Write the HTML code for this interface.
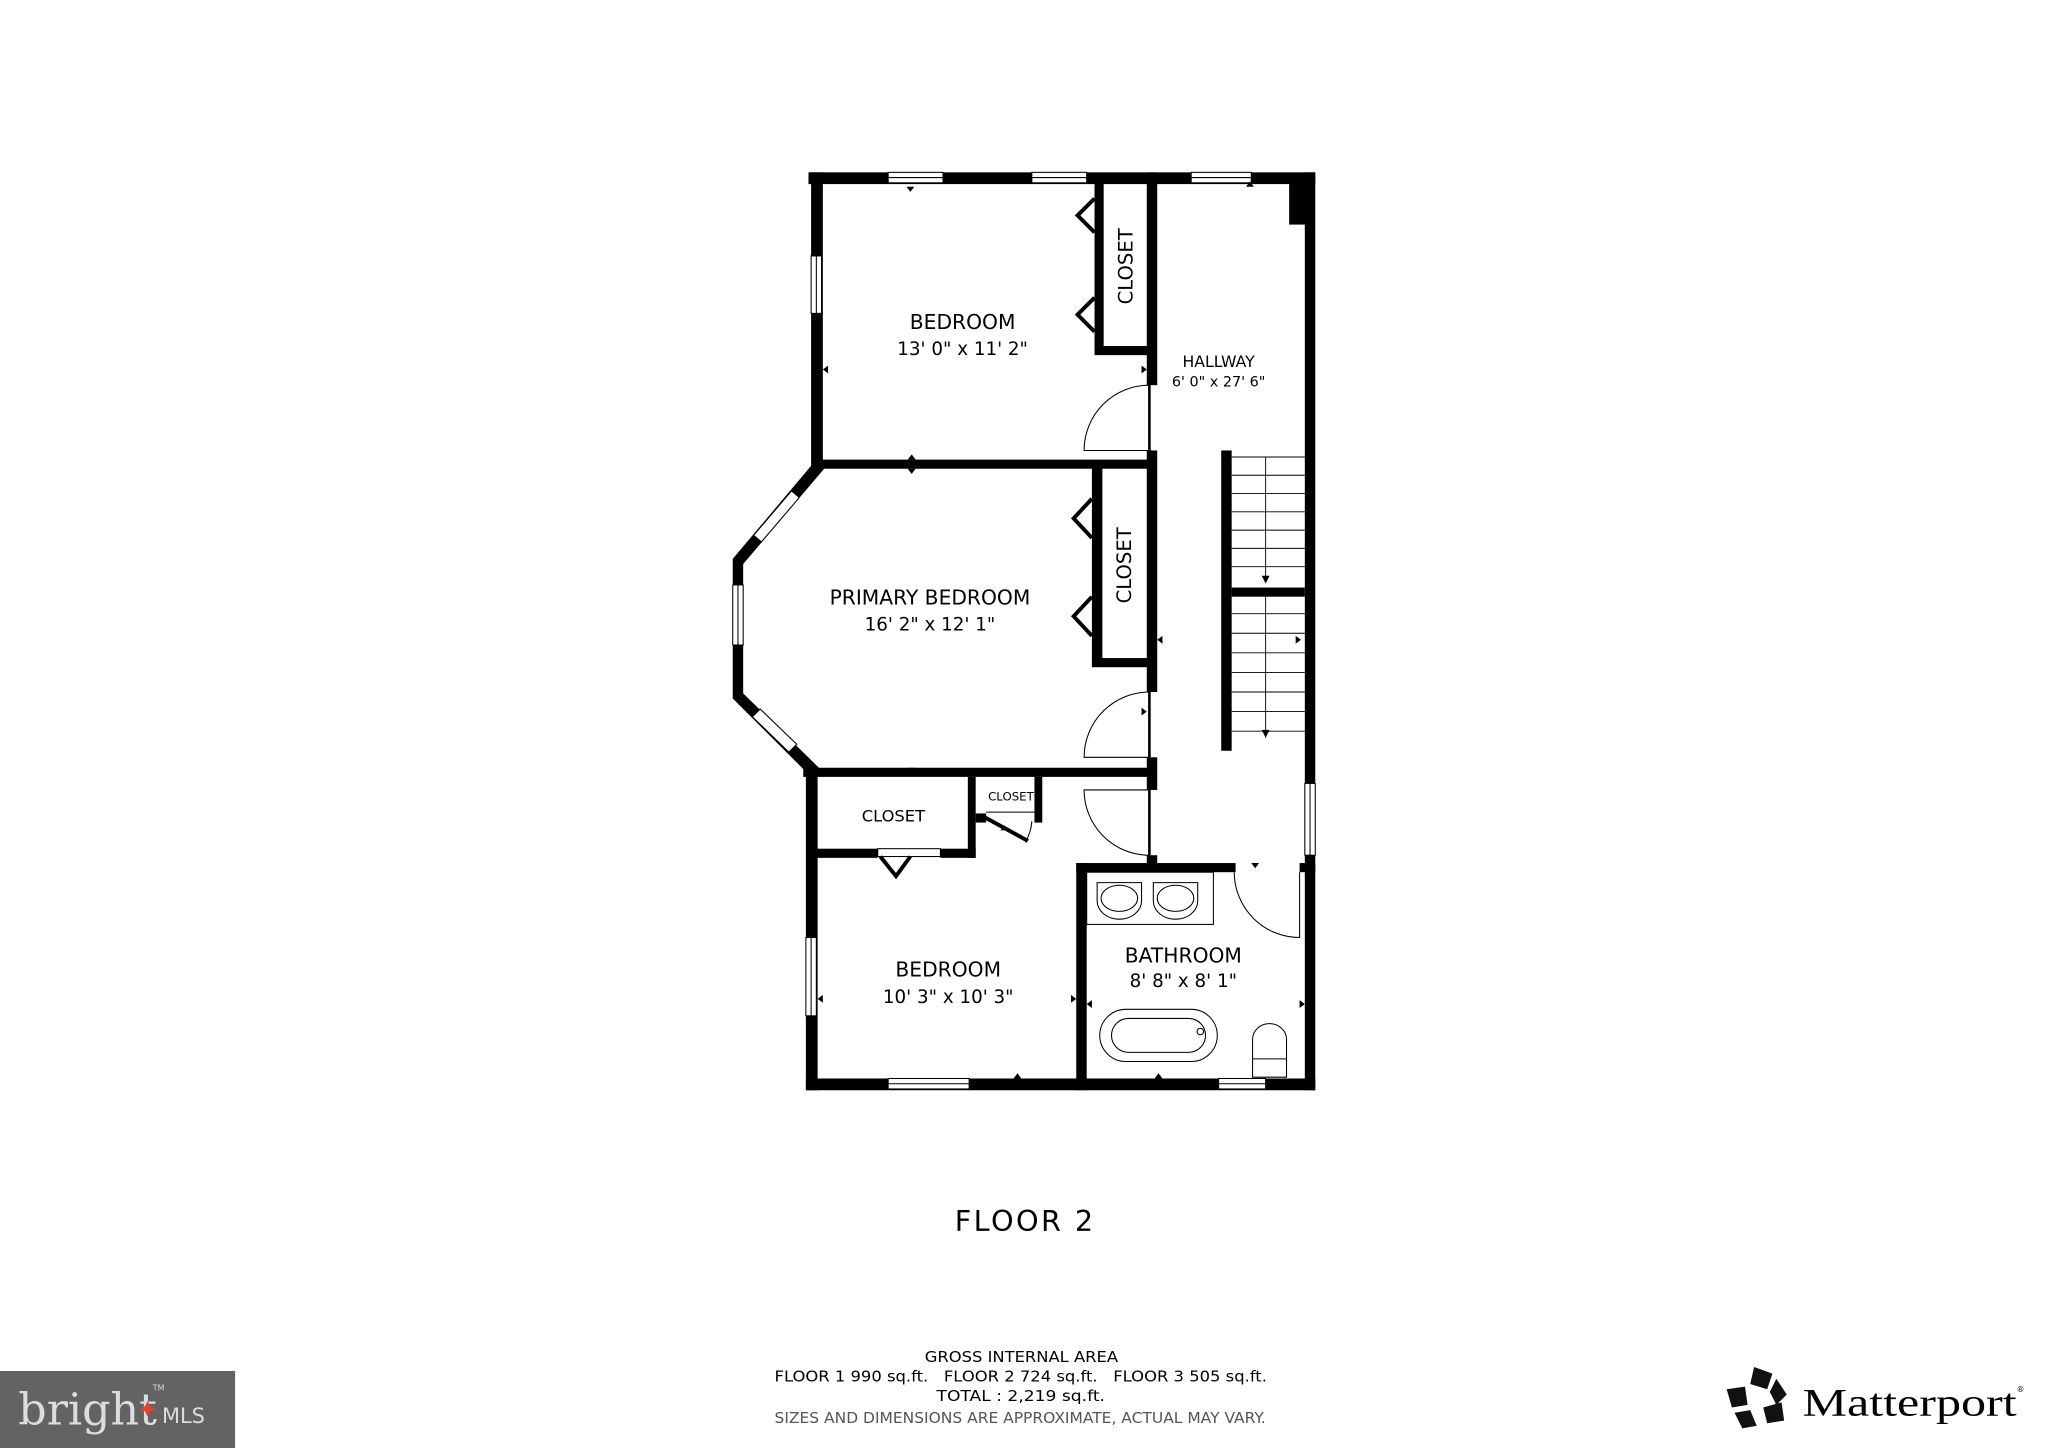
<!DOCTYPE html>
<html><head><meta charset="utf-8"><style>
html,body{margin:0;padding:0;background:#fff;width:2048px;height:1448px;overflow:hidden}
svg{display:block}
text{font-family:"DejaVu Sans","Liberation Sans",sans-serif;fill:#000}
</style></head><body>
<svg width="2048" height="1448" viewBox="0 0 1568 1109" preserveAspectRatio="none" xmlns="http://www.w3.org/2000/svg">
<rect width="1568" height="1109" fill="#fff"/>
<g fill="#000">
<rect x="619" y="132" width="388" height="9"/>
<rect x="999" y="132" width="8" height="703"/>
<rect x="987" y="140" width="13" height="32"/>
<rect x="617" y="826" width="390" height="9"/>
<rect x="621" y="132" width="9" height="226"/>
<rect x="625" y="352" width="257" height="7"/>
<rect x="878" y="132" width="8" height="163"/>
<rect x="878" y="345" width="8" height="185"/>
<rect x="878" y="580" width="8" height="25"/>
<rect x="878" y="655" width="8" height="13"/>
<rect x="838" y="140" width="7" height="131"/>
<rect x="838" y="265" width="44" height="7"/>
<rect x="836" y="358" width="8" height="152"/>
<rect x="836" y="504" width="46" height="7"/>
<polygon points="625,352 631,359 569,432 561,428"/>
<rect x="561" y="428" width="8" height="107"/>
<polygon points="561,535 569,531 629,590 621,595"/>
<rect x="615" y="588" width="267" height="7"/>
<rect x="617" y="590" width="9" height="245"/>
<rect x="741" y="595" width="6" height="62"/>
<rect x="625" y="650" width="47" height="7"/>
<rect x="720" y="650" width="27" height="7"/>
<rect x="792" y="595" width="6" height="35"/>
<rect x="747" y="623" width="8" height="7"/>
<rect x="824" y="661" width="122" height="7"/>
<rect x="995" y="661" width="12" height="7"/>
<rect x="824" y="661" width="8" height="174"/>
<rect x="935" y="345" width="8" height="230"/>
<rect x="943" y="450" width="56" height="7"/>
</g>
<g fill="#fff" stroke="#000" stroke-width="0.8">
<rect x="680" y="132" width="42" height="8"/><line x1="680" y1="136" x2="722" y2="136"/>
<rect x="790" y="132" width="42" height="8"/><line x1="790" y1="136" x2="832" y2="136"/>
<rect x="912" y="132" width="46" height="8"/><line x1="912" y1="136" x2="958" y2="136"/>
<rect x="621" y="196" width="8" height="44"/><line x1="625" y1="196" x2="625" y2="240"/>
<rect x="561" y="448" width="8" height="46"/><line x1="565" y1="448" x2="565" y2="494"/>
<rect x="999" y="600" width="8" height="55"/><line x1="1003" y1="600" x2="1003" y2="655"/>
<rect x="680" y="826" width="62" height="8"/><line x1="680" y1="830" x2="742" y2="830"/>
<rect x="933" y="826" width="36" height="8"/><line x1="933" y1="830" x2="969" y2="830"/>
<rect x="617" y="718" width="8" height="60"/><line x1="621" y1="718" x2="621" y2="778"/>
<polygon points="577,410 606,376 612,381 583,415"/>
<polygon points="576,549 582,543 610,570 604,576"/>
</g>
<g fill="none" stroke="#000" stroke-width="0.8">
<path d="M880 295 A50 50 0 0 0 830 345 L880 345"/><line x1="880" y1="295" x2="880" y2="345" stroke-width="2"/>
<path d="M880 530 A50 50 0 0 0 830 580 L880 580"/><line x1="880" y1="530" x2="880" y2="580" stroke-width="2"/>
<path d="M880 605 L830 605 A50 50 0 0 0 880 655"/><line x1="880" y1="605" x2="880" y2="655" stroke-width="2"/>
<path d="M945 668 A50 50 0 0 0 995 718 L995 668"/>
<polyline points="838,152 825,165 838,178" stroke-width="3"/>
<polyline points="838,228 825,241 838,254" stroke-width="3"/>
<line x1="842" y1="152" x2="842" y2="258"/>
<polyline points="836,382 822,397 836,412" stroke-width="3"/>
<polyline points="836,457 822,472 836,487" stroke-width="3"/>
<line x1="840" y1="382" x2="840" y2="487"/>
<rect x="672" y="650" width="48" height="6" fill="#fff"/>
<polyline points="674,656 686,671 697,656" stroke-width="3"/>
<line x1="754" y1="626" x2="787" y2="644" stroke-width="3"/>
<path d="M790 629 A35 35 0 0 1 785 645"/>
<line x1="755" y1="622" x2="792" y2="622"/>
<g stroke-width="0.7">
<line x1="943" y1="350" x2="999" y2="350"/><line x1="943" y1="364" x2="999" y2="364"/>
<line x1="943" y1="378" x2="999" y2="378"/><line x1="943" y1="392" x2="999" y2="392"/>
<line x1="943" y1="406" x2="999" y2="406"/><line x1="943" y1="420" x2="999" y2="420"/>
<line x1="943" y1="434" x2="999" y2="434"/>
<line x1="943" y1="470" x2="999" y2="470"/><line x1="943" y1="485" x2="999" y2="485"/>
<line x1="943" y1="500" x2="999" y2="500"/><line x1="943" y1="515" x2="999" y2="515"/>
<line x1="943" y1="530" x2="999" y2="530"/><line x1="943" y1="545" x2="999" y2="545"/>
<line x1="943" y1="560" x2="999" y2="560"/>
<line x1="969" y1="350" x2="969" y2="445"/><line x1="969" y1="457" x2="969" y2="565"/>
</g>
<rect x="832" y="668" width="97" height="40"/>
<path d="M840 676 L874 676 L874 690 A17 14 0 0 1 840 690 Z"/>
<ellipse cx="857" cy="688" rx="14" ry="10"/>
<path d="M883 676 L917 676 L917 690 A17 14 0 0 1 883 690 Z"/>
<ellipse cx="900" cy="688" rx="14" ry="10"/>
<rect x="842" y="773" width="90" height="40" rx="20"/>
<rect x="851" y="780" width="72" height="26" rx="13"/>
<circle cx="919" cy="790" r="2.5"/>
<path d="M959 825 L959 796 A13 12 0 0 1 985 796 L985 825 Z"/>
<line x1="959" y1="811" x2="985" y2="811"/>
</g>
<g fill="#000">
<polygon points="697,147 694,143 700,143"/>
<polygon points="695,352 701,352 698,348"/><polygon points="695,359 701,359 698,363"/>
<polygon points="695,588 701,588 698,592"/>
<polygon points="954,143 960,143 957,139"/>
<polygon points="630,283 634,280 634,286"/><polygon points="878,283 874,280 874,286"/>
<polygon points="886,490 890,487 890,493"/><polygon points="878,545 874,542 874,548"/>
<polygon points="996,490 992,487 992,493"/>
<polygon points="966,441 972,441 969,447"/><polygon points="966,559 972,559 969,565"/>
<polygon points="958,661 964,661 961,665"/>
<polygon points="626,765 630,762 630,768"/><polygon points="824,765 820,762 820,768"/>
<polygon points="832,769 836,766 836,772"/><polygon points="999,769 995,766 995,772"/>
<polygon points="776,826 782,826 779,822"/><polygon points="884,826 890,826 887,822"/>
<polygon points="766,636 772,636 769,632"/><polygon points="884,668 890,668 887,664"/>
</g>
<text x="737" y="252" font-size="15.5" text-anchor="middle">BEDROOM</text>
<text x="737" y="272" font-size="14" text-anchor="middle">13' 0" x 11' 2"</text>
<text x="933" y="281" font-size="12" text-anchor="middle">HALLWAY</text>
<text x="933" y="296" font-size="11" text-anchor="middle">6' 0" x 27' 6"</text>
<text x="867" y="204" font-size="15" text-anchor="middle" transform="rotate(-90 867 204)">CLOSET</text>
<text x="866" y="433" font-size="15" text-anchor="middle" transform="rotate(-90 866 433)">CLOSET</text>
<text x="712" y="463" font-size="15.5" text-anchor="middle">PRIMARY BEDROOM</text>
<text x="712" y="483" font-size="14" text-anchor="middle">16' 2" x 12' 1"</text>
<text x="684" y="629" font-size="12.5" text-anchor="middle">CLOSET</text>
<text x="774" y="613" font-size="9" text-anchor="middle">CLOSET</text>
<text x="726" y="748" font-size="15.5" text-anchor="middle">BEDROOM</text>
<text x="726" y="768" font-size="14" text-anchor="middle">10' 3" x 10' 3"</text>
<text x="906" y="737" font-size="15.5" text-anchor="middle">BATHROOM</text>
<text x="906" y="756" font-size="14" text-anchor="middle">8' 8" x 8' 1"</text>
<text x="731" y="943" font-size="22" textLength="106">FLOOR 2</text>
<g font-size="11.5">
<text x="708" y="1043" textLength="148" lengthAdjust="spacingAndGlyphs">GROSS INTERNAL AREA</text>
<text x="593" y="1058" textLength="377" lengthAdjust="spacingAndGlyphs" xml:space="preserve">FLOOR 1 990 sq.ft.   FLOOR 2 724 sq.ft.   FLOOR 3 505 sq.ft.</text>
<text x="717" y="1073" textLength="129" lengthAdjust="spacingAndGlyphs">TOTAL :  2,219 sq.ft.</text>
<text x="593" y="1090" textLength="376" lengthAdjust="spacingAndGlyphs" style="fill:#555">SIZES AND DIMENSIONS ARE APPROXIMATE, ACTUAL MAY VARY.</text>
</g>
<rect x="0" y="1050" width="180" height="59" fill="#636363"/>
<text x="14" y="1091" font-size="34" style="fill:#ddd;font-family:'DejaVu Serif','Liberation Serif',serif">bright</text>
<text x="124" y="1090" font-size="16" style="fill:#ddd">MLS</text>
<text x="117" y="1065" font-size="6" style="fill:#ddd">TM</text>
<polygon points="113,1073 115,1077 119,1079 115,1081 113,1085 111,1081 107,1079 111,1077" fill="#e0452b"/>
<g fill="#111">
<polygon points="1343,1047 1357,1052 1353,1064 1340,1060"/>
<polygon points="1360,1056 1368,1068 1360,1076 1355,1066"/>
<polygon points="1322,1064 1336,1062 1338,1076 1326,1078"/>
<polygon points="1328,1082 1340,1080 1345,1092 1334,1094"/>
<polygon points="1350,1078 1364,1074 1366,1088 1353,1090"/>
</g>
<text x="1380" y="1084" font-size="30" textLength="164" lengthAdjust="spacingAndGlyphs" style="font-family:'Liberation Serif','DejaVu Serif',serif">Matterport</text>
<text x="1544" y="1066" font-size="6">®</text>
</svg>
</body></html>
